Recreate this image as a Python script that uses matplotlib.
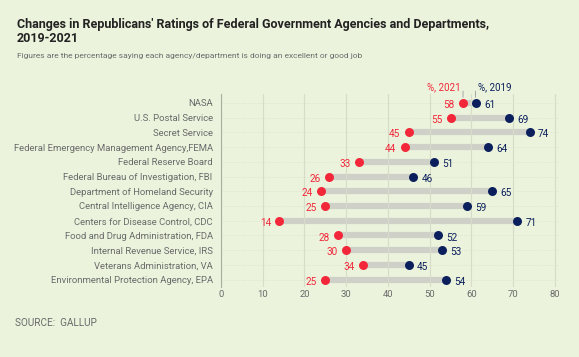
import matplotlib.pyplot as plt

agencies = [
    "NASA",
    "U.S. Postal Service",
    "Secret Service",
    "Federal Emergency Management Agency,FEMA",
    "Federal Reserve Board",
    "Federal Bureau of Investigation, FBI",
    "Department of Homeland Security",
    "Central Intelligence Agency, CIA",
    "Centers for Disease Control, CDC",
    "Food and Drug Administration, FDA",
    "Internal Revenue Service, IRS",
    "Veterans Administration, VA",
    "Environmental Protection Agency, EPA",
]
pct_2021 = [58, 55, 45, 44, 33, 26, 24, 25, 14, 28, 30, 34, 25]
pct_2019 = [61, 69, 74, 64, 51, 46, 65, 59, 71, 52, 53, 45, 54]
xticks = [0, 10, 20, 30, 40, 50, 60, 70, 80]

bg = "#ebf3dc"
red = "#f2283a"
navy = "#0b1f5c"
grey_text = "#6b6b6b"

plt.rcParams["font.family"] = ["Roboto", "DejaVu Sans"]

fig = plt.figure(figsize=(5.79, 3.57), dpi=100, facecolor=bg)
ax = fig.add_axes([221 / 579, 1 - 287 / 357, (559 - 221) / 579, (287 - 94) / 357])
ax.set_facecolor(bg)

y = list(range(len(agencies)))

for i in y:
    ax.axhline(i, color="#d9e0cc", lw=0.6, ls=":", zorder=0)
    ax.plot([pct_2021[i], pct_2019[i]], [i, i], color="#cfd1c8", lw=4.5,
            solid_capstyle="butt", zorder=1)

ax.scatter(pct_2021, y, s=42, color=red, zorder=3, linewidths=0)
ax.scatter(pct_2019, y, s=42, color=navy, zorder=3, linewidths=0)

for i in y:
    ax.annotate(str(pct_2021[i]), (pct_2021[i], i), xytext=(-6, -1.5),
                textcoords="offset points", ha="right", va="center",
                color=red, fontsize=7.2)
    ax.annotate(str(pct_2019[i]), (pct_2019[i], i), xytext=(6, -1.5),
                textcoords="offset points", ha="left", va="center",
                color=navy, fontsize=7.2)

# series labels above the first row, with short vertical leader lines
for val, lab, col, side in [(pct_2021[0], "%, 2021", red, "right"),
                            (pct_2019[0], "%, 2019", navy, "left")]:
    ax.annotate("", (val, 0), xytext=(0, 8.5), textcoords="offset points",
                arrowprops=dict(arrowstyle="-", color="#9a9a9a", lw=0.6,
                                shrinkA=0, shrinkB=4))
    dx = -1.5 if side == "right" else 1.5
    ax.annotate(lab, (val, 0), xytext=(dx, 11.5), textcoords="offset points",
                ha=side, va="center", color=col, fontsize=7)

ax.set_xlim(0, 81)
ax.set_ylim(len(agencies) - 0.5, -0.6)
ax.set_xticks(xticks)
ax.set_yticks(y)
ax.set_yticklabels(agencies)
ax.grid(axis="x", color="#d6dcc8", lw=0.8, zorder=0)
ax.tick_params(axis="both", colors=grey_text, labelsize=6.8, length=0)
ax.tick_params(axis="y", pad=6)
ax.tick_params(axis="x", pad=2)
for s in ["top", "right", "bottom"]:
    ax.spines[s].set_visible(False)
ax.spines["left"].set_color("#a9ae9f")
ax.spines["left"].set_linewidth(0.8)

fig.text(17 / 579, 1 - 18 / 357,
         "Changes in Republicans' Ratings of Federal Government Agencies and Departments,\n2019-2021",
         ha="left", va="top", fontsize=9, fontweight="bold", color="#222222",
         linespacing=1.1)
fig.text(17 / 579, 1 - 56 / 357,
         "Figures are the percentage saying each agency/department is doing an excellent or good job",
         ha="left", va="center", fontsize=6.0, color=grey_text)
fig.text(15 / 579, 1 - 323 / 357, "SOURCE:  GALLUP", ha="left", va="center",
         fontsize=7.2, color=grey_text)

fig.savefig("out.png", dpi=100, facecolor=bg)
